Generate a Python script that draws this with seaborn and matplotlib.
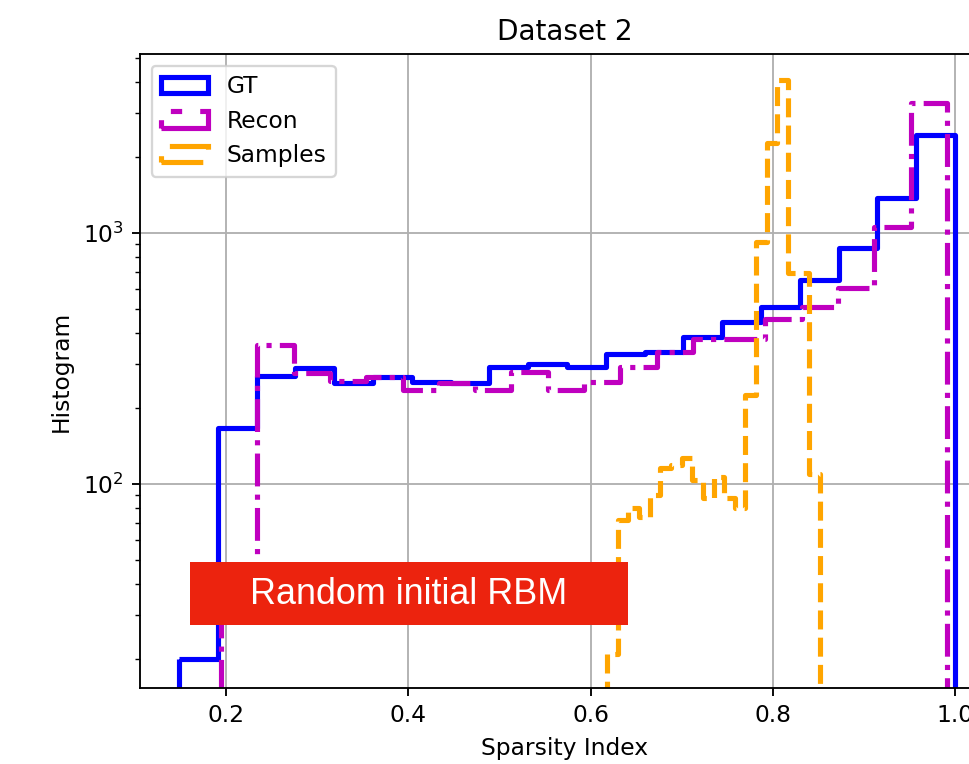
import numpy as np
import pandas as pd
import matplotlib
matplotlib.use("Agg")
import matplotlib.pyplot as plt
import seaborn as sns
from matplotlib.patches import Rectangle

# ---- data ----
n_bins = 20
gt_range = (0.1484, 1.0)
gt_counts = [20, 167, 269, 290, 253, 267, 255, 252, 293, 300,
             293, 330, 337, 385, 442, 507, 650, 871, 1377, 2455]
recon_range = (0.1945, 0.9912)
recon_counts = [33, 358, 277, 257, 266, 237, 253, 237, 280, 237,
                255, 293, 337, 378, 378, 455, 507, 604, 1056, 3300]
samples_range = (0.6181, 0.8519)
samples_counts = [21, 72, 80, 74, 90, 116, 119, 127, 104, 88,
                  107, 88, 80, 226, 921, 2286, 4074, 690, 690, 110]

series_labels = ["GT", "Recon", "Samples"]
series_colors = ["blue", "m", "orange"]
series_styles = ["-", "-.", "--"]

title = "Dataset 2"
xlabel = "Sparsity Index"
ylabel = "Histogram"
note = "Random initial RBM"

DPI = 168
fig = plt.figure(figsize=(969 / DPI, 764 / DPI), dpi=DPI)
ax = fig.add_axes([140 / 969, 1 - 688 / 764, 850 / 969, (688 - 54) / 764])

for rng, counts, lab, col, ls in zip(
        [gt_range, recon_range, samples_range],
        [gt_counts, recon_counts, samples_counts],
        series_labels, series_colors, series_styles):
    edges = np.linspace(rng[0], rng[1], n_bins + 1)
    df = pd.DataFrame({"v": 0.5 * (edges[:-1] + edges[1:]),
                       "w": np.asarray(counts, dtype=float)})
    sns.histplot(data=df, x="v", weights="w", bins=list(edges),
                 element="step", fill=True, color=col, facecolor="none",
                 edgecolor=col, linewidth=2.2, linestyle=ls, label=lab,
                 ax=ax)

ax.set_yscale("log")
ax.set_xlim(0.1056, 1.0384)
ax.set_ylim(15.39, 5164)
ax.set_xticks([0.2, 0.4, 0.6, 0.8, 1.0])
ax.set_xticklabels(["0.2", "0.4", "0.6", "0.8", "1.0"])
ax.grid(True, which="major", color="#b0b0b0", linewidth=0.8)
ax.set_axisbelow(True)
ax.set_title(title)
ax.set_xlabel(xlabel)
ax.set_ylabel(ylabel)
ax.legend(loc="upper left")

# red annotation box
fig.patches.append(Rectangle((190 / 969, 1 - 625 / 764), 438 / 969, 63 / 764,
                             transform=fig.transFigure, facecolor="#ec230e",
                             edgecolor="none", zorder=10))
fig.text(409 / 969, 1 - 595 / 764, note, color="white", fontsize=15.4,
         family="Liberation Sans", ha="center", va="center", zorder=11)

fig.savefig("out.png", dpi=DPI)
